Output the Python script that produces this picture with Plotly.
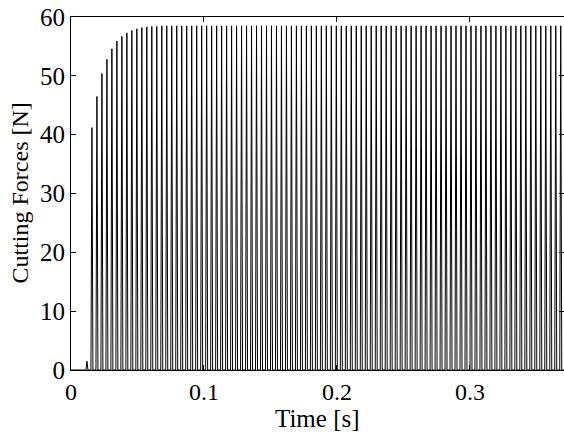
import plotly.graph_objects as go

# Tooth-passing force pulses: start time of each pulse [s]
pulse_times = [
    0.01125, 0.015, 0.01875, 0.0225, 0.02625, 0.03, 0.03375, 0.0375, 0.04125, 0.045,
    0.04875, 0.0525, 0.05625, 0.06, 0.06375, 0.0675, 0.07125, 0.075, 0.07875, 0.0825,
    0.08625, 0.09, 0.09375, 0.0975, 0.10125, 0.105, 0.10875, 0.1125, 0.11625, 0.12,
    0.12375, 0.1275, 0.13125, 0.135, 0.13875, 0.1425, 0.14625, 0.15, 0.15375, 0.1575,
    0.16125, 0.165, 0.16875, 0.1725, 0.17625, 0.18, 0.18375, 0.1875, 0.19125, 0.195,
    0.19875, 0.2025, 0.20625, 0.21, 0.21375, 0.2175, 0.22125, 0.225, 0.22875, 0.2325,
    0.23625, 0.24, 0.24375, 0.2475, 0.25125, 0.255, 0.25875, 0.2625, 0.26625, 0.27,
    0.27375, 0.2775, 0.28125, 0.285, 0.28875, 0.2925, 0.29625, 0.3, 0.30375, 0.3075,
    0.31125, 0.315, 0.31875, 0.3225, 0.32625, 0.33, 0.33375, 0.3375, 0.34125, 0.345,
    0.34875, 0.3525, 0.35625, 0.36, 0.36375, 0.3675,
]

# Peak cutting force of each pulse [N]
pulse_peaks = [
    1.5, 41.2, 46.5, 50.4, 52.8, 54.6, 55.9, 56.7, 57.3, 57.7,
    58.0, 58.2, 58.3, 58.4, 58.4, 58.5, 58.5, 58.5, 58.5, 58.5,
    58.5, 58.5, 58.5, 58.5, 58.5, 58.5, 58.5, 58.5, 58.5, 58.5,
    58.5, 58.5, 58.5, 58.5, 58.5, 58.5, 58.5, 58.5, 58.5, 58.5,
    58.5, 58.5, 58.5, 58.5, 58.5, 58.5, 58.5, 58.5, 58.5, 58.5,
    58.5, 58.5, 58.5, 58.5, 58.5, 58.5, 58.5, 58.5, 58.5, 58.5,
    58.5, 58.5, 58.5, 58.5, 58.5, 58.5, 58.5, 58.5, 58.5, 58.5,
    58.5, 58.5, 58.5, 58.5, 58.5, 58.5, 58.5, 58.5, 58.5, 58.5,
    58.5, 58.5, 58.5, 58.5, 58.5, 58.5, 58.5, 58.5, 58.5, 58.5,
    58.5, 58.5, 58.5, 58.5, 58.5, 58.5,
]

x_title = "Time [s]"
y_title = "Cutting Forces [N]"

pulse_width = 0.0015  # duration of one tooth engagement [s]
t_end = 0.3707

x = [0.0]
y = [0.0]
for t, p in zip(pulse_times, pulse_peaks):
    x += [t, t + pulse_width / 2, t + pulse_width]
    y += [0.0, p, 0.0]
x.append(t_end)
y.append(0.0)

FONT = "Liberation Serif"

fig = go.Figure(
    go.Scatter(x=x, y=y, mode="lines", line=dict(color="black", width=1),
               showlegend=False, hoverinfo="skip")
)

axis_common = dict(
    showline=True, linecolor="black", linewidth=1, mirror="ticks",
    ticks="inside", ticklen=5, tickcolor="black", showgrid=False, zeroline=False,
    automargin=False,
)

fig.update_xaxes(range=[0, t_end], dtick=0.1, tick0=0,
                 tickfont=dict(family=FONT, size=24, color="black"), **axis_common)
fig.update_yaxes(range=[0, 60], dtick=10, tick0=0,
                 tickfont=dict(family=FONT, size=25, color="black"), **axis_common)

fig.add_annotation(text=x_title, xref="paper", yref="paper", x=0.5, y=-0.093,
                   xanchor="center", yanchor="top", showarrow=False,
                   font=dict(family=FONT, size=25, color="black"))
fig.add_annotation(text=y_title, xref="paper", yref="paper", x=-0.075, y=0.5,
                   xanchor="right", yanchor="middle", textangle=-90, showarrow=False,
                   font=dict(family=FONT, size=24, color="black"))

fig.update_layout(
    width=564, height=432,
    margin=dict(l=71, r=0, t=17, b=62),
    paper_bgcolor="white", plot_bgcolor="white",
    font=dict(family=FONT, color="black"),
)

fig.write_html(
    "out.html",
    config={"displayModeBar": False},
    post_script="document.body.style.margin='0';document.body.style.overflow='hidden';",
)
